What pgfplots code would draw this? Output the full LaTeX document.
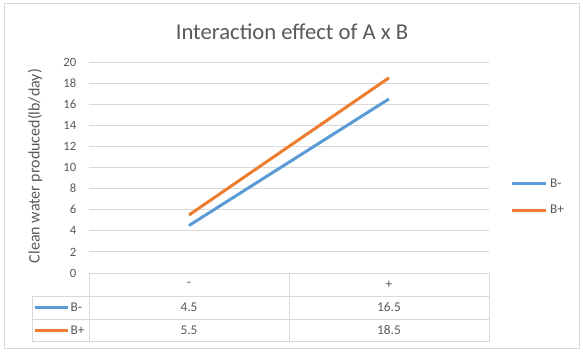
\documentclass[border=0pt]{standalone}
\usepackage{pgfplots}
\pgfplotsset{compat=1.18}
\usepackage{fontspec}
\setmainfont{Carlito}
\definecolor{exblue}{HTML}{5B9BD5}
\definecolor{exorange}{HTML}{ED7D31}
\definecolor{exgrid}{HTML}{D9D9D9}
\definecolor{extext}{HTML}{595959}
\begin{document}
\begin{tikzpicture}[x=0.75pt,y=0.75pt]
\useasboundingbox (0,0) rectangle (583,351);
\fill[white] (0,0) rectangle (583,351);
\draw[exgrid,line width=0.75pt] (4,3) rectangle (579,347);
\begin{axis}[
  at={(66.75pt,58.5pt)}, anchor=south west,
  scale only axis, width=300pt, height=158.25pt,
  xmin=0, xmax=2, ymin=0, ymax=20,
  ytick={0,2,...,20},
  xtick=\empty,
  ymajorgrids, grid style={exgrid, line width=0.75pt},
  axis line style={draw=none},
  major tick length=0pt,
  /pgf/number format/assume math mode=true,
  yticklabel style={font=\fontsize{9.5}{11}\selectfont, text=extext, xshift=-6pt},
  clip=false,
  legend style={at={(1.043,0.36)}, anchor=west, draw=none, fill=none,
    font=\fontsize{10}{12}\selectfont, text=extext, row sep=8pt},
  legend cell align=left,
  legend image code/.code={\draw[#1] (0pt,0pt) -- (25.5pt,0pt);},
]
\addplot[exblue, line width=2.25pt] coordinates {(0.5,4.5) (1.5,16.5)};
\addlegendentry{B-}
\addplot[exorange, line width=2.25pt] coordinates {(0.5,5.5) (1.5,18.5)};
\addlegendentry{B+}
\end{axis}
% title and axis label
\node[text=extext, font=\fontsize{17}{20}\selectfont] at (292,319) {Interaction effect of A x B};
\node[text=extext, font=\fontsize{12}{14}\selectfont, rotate=90] at (35,185) {Clean water produced(lb/day)};
% data table
\begin{scope}[exgrid, line width=0.75pt]
\draw (89,78) -- (489,78);
\draw (32,55) -- (489,55);
\draw (32,32) -- (489,32);
\draw (32,9.5) -- (489,9.5);
\draw (89,78) -- (89,9.5);
\draw (289,78) -- (289,9.5);
\draw (489,78) -- (489,9.5);
\draw (32,55) -- (32,9.5);
\end{scope}
\begin{scope}[every node/.style={text=extext, font=\fontsize{10}{12}\selectfont}]
\node at (189,66.5) {-};
\node at (389,66.5) {+};
\node at (189,44) {4.5};
\node at (389,44) {16.5};
\node at (189,21) {5.5};
\node at (389,21) {18.5};
\draw[exblue, line width=2.25pt] (35,44) -- (68,44);
\node[anchor=west, inner sep=1pt] at (69,44) {B-};
\draw[exorange, line width=2.25pt] (35,21) -- (68,21);
\node[anchor=west, inner sep=1pt] at (69,21) {B+};
\end{scope}
\end{tikzpicture}
\end{document}
